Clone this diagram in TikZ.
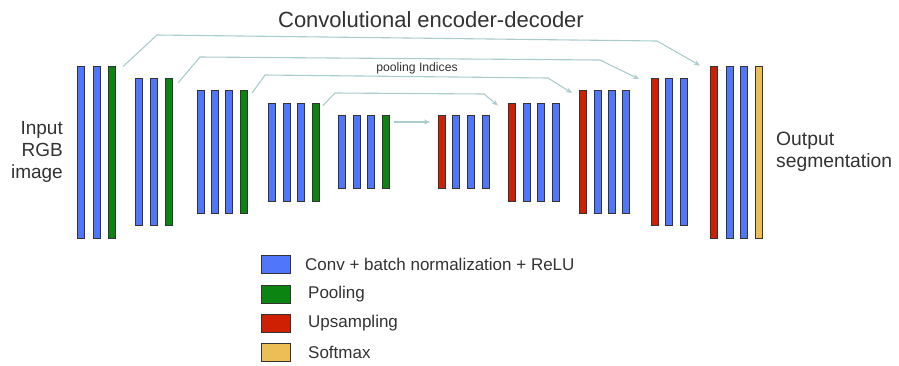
\documentclass[tikz,border=0pt]{standalone}
\usepackage{fontspec}
\setmainfont{Liberation Sans}
\usetikzlibrary{calc}
\usetikzlibrary{arrows.meta}

\definecolor{convc}{RGB}{80,118,252}
\definecolor{poolc}{RGB}{12,132,18}
\definecolor{upc}{RGB}{208,32,4}
\definecolor{softc}{RGB}{236,190,86}
\definecolor{skipc}{RGB}{170,204,204}
\definecolor{txtc}{RGB}{50,50,50}

\tikzset{
  layer/.style={draw=black!80,line width=1pt,inner sep=0pt,
    minimum width=7pt,minimum height=#1},
  keybox/.style={draw=black!80,line width=1pt,inner sep=0pt,
    minimum width=29pt,minimum height=18pt},
  skip/.style={draw=skipc,line width=1.1pt,-{Stealth[length=6pt,width=5pt]}},
  lbl/.style={text=txtc,inner sep=0pt}
}

\begin{document}
\begin{tikzpicture}[x=1pt,y=-1pt]
                    \useasboundingbox (0,0) rectangle (899,365);

                    \node[lbl,font=\fontsize{22}{26}\selectfont] (T) at (431,20) {Convolutional encoder-decoder};

                    \foreach \x/\c [count=\i] in {81/convc,97/convc,112/poolc}
                      \node[layer=172pt,fill=\c] (E1-\i) at (\x,152) {};
                    \foreach \x/\c [count=\i] in {139/convc,154/convc,169/poolc}
                      \node[layer=147pt,fill=\c] (E2-\i) at (\x,152) {};
                    \foreach \x/\c [count=\i] in {201/convc,215/convc,229/convc,244/poolc}
                      \node[layer=123pt,fill=\c] (E3-\i) at (\x,152) {};
                    \foreach \x/\c [count=\i] in {272/convc,287/convc,301/convc,316/poolc}
                      \node[layer=98pt,fill=\c] (E4-\i) at (\x,152.5) {};
                    \foreach \x/\c [count=\i] in {342/convc,357/convc,371/convc,386/poolc}
                      \node[layer=73pt,fill=\c] (E5-\i) at (\x,152) {};

                    \foreach \x/\c [count=\i] in {442/upc,456/convc,471/convc,486/convc}
                      \node[layer=73pt,fill=\c] (D5-\i) at (\x,152) {};
                    \foreach \x/\c [count=\i] in {512/upc,527/convc,541/convc,556/convc}
                      \node[layer=98pt,fill=\c] (D4-\i) at (\x,152.5) {};
                    \foreach \x/\c [count=\i] in {583/upc,598/convc,612/convc,626/convc}
                      \node[layer=123pt,fill=\c] (D3-\i) at (\x,152) {};
                    \foreach \x/\c [count=\i] in {655/upc,669/convc,684/convc}
                      \node[layer=147pt,fill=\c] (D2-\i) at (\x,152) {};
                    \foreach \x/\c [count=\i] in {714/upc,730/convc,744/convc,759/softc}
                      \node[layer=172pt,fill=\c] (D1-\i) at (\x,152) {};

                    \node[lbl,anchor=east,align=right,font=\fontsize{19}{22}\selectfont] (In) at (63,152) {Input\\RGB\\image};
                    \node[lbl,anchor=west,align=left,font=\fontsize{19.3}{22}\selectfont] (Out) at (776,152) {Output\\segmentation};

                    % pooling indices
                    \draw[skip] ($(E1-3.north east)+(7,1)$) -- (157,35) -- (657,41) -- ($(D1-1.north west)+(-10,0)$);
                    \draw[skip] ($(E2-3.north east)+(5,5)$) -- (200,57) -- (600,60) -- ($(D2-1.north west)+(-12,1)$);
                    \draw[skip] ($(E3-4.north east)+(4,3)$) -- (265,75) -- (548,78) -- ($(D3-1.north west)+(-7,3)$);
                    \draw[skip] ($(E4-4.north east)+(3,2.5)$) -- (335,93) -- (484,94) -- ($(D4-1.north west)+(-10,2.5)$);
                    \draw[skip] ($(E5-4.north east)+(4,7)$) -- ($(D5-1.north west)+(-8,7)$);

                    \node[lbl,font=\fontsize{12.2}{14}\selectfont] (PI) at (417,68) {pooling Indices};

                    % legend
                    \node[keybox,fill=convc] (K1) at (276,264.5) {};
                    \node[keybox,fill=poolc] (K2) at (276,294) {};
                    \node[keybox,fill=upc] (K3) at (276,323) {};
                    \node[keybox,fill=softc] (K4) at (276,352.5) {};

                    \node[lbl,anchor=west,font=\fontsize{17}{20}\selectfont] (L1) at (305,264.5) {Conv + batch normalization + ReLU};
                    \node[lbl,anchor=west,font=\fontsize{17}{20}\selectfont] (L2) at (308,294) {Pooling};
                    \node[lbl,anchor=west,font=\fontsize{17}{20}\selectfont] (L3) at (308,323) {Upsampling};
                    \node[lbl,anchor=west,font=\fontsize{17}{20}\selectfont] (L4) at (308,352.5) {Softmax};
                \end{tikzpicture}
\end{document}
